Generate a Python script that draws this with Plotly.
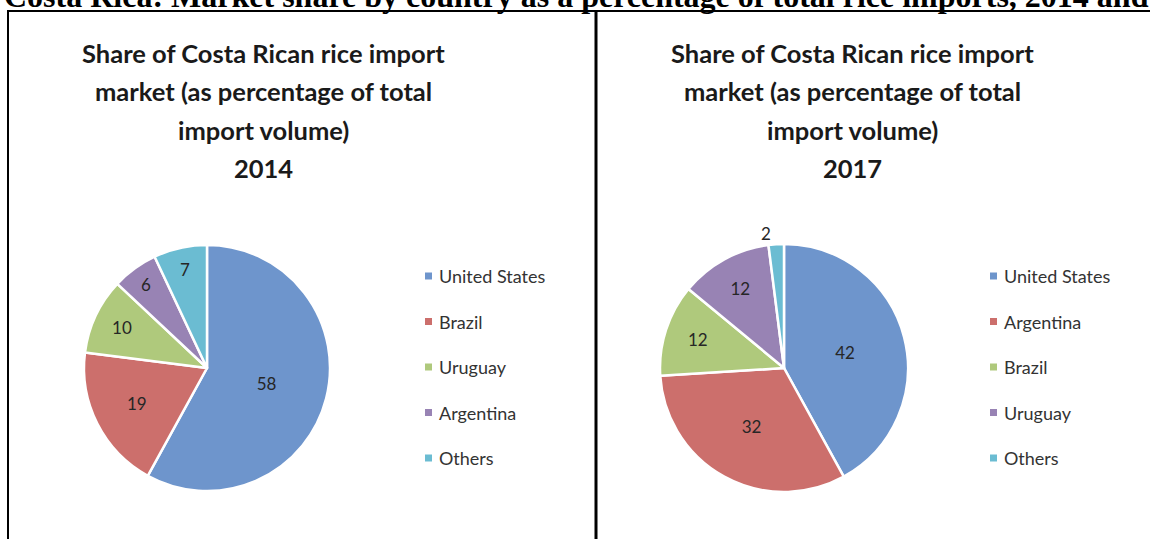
import plotly.graph_objects as go

W, H = 1150, 539

page_title = "Costa Rica: Market share by country as a percentage of total rice imports, 2014 and"
chart_title_lines = ["Share of Costa Rican rice import", "market (as percentage of total", "import volume)"]
years = ["2014", "2017"]

labels_2014 = ["United States", "Brazil", "Uruguay", "Argentina", "Others"]
values_2014 = [58, 19, 10, 6, 7]

labels_2017 = ["United States", "Argentina", "Brazil", "Uruguay", "Others"]
values_2017 = [42, 32, 12, 12, 2]

slot_colors = ["#6E95CC", "#CC6F6C", "#AFC97C", "#9883B4", "#6BBCD2"]

FONT = "Lato, 'Open Sans', sans-serif"


def px_x(v):
    return v / W


def px_y(v):
    return 1 - v / H


fig = go.Figure()

pies = [
    dict(labels=labels_2014, values=values_2014, cx=207, cy=368, r=123,
         tpos=["inside"] * 5, title_cx=263, leg_x=425),
    dict(labels=labels_2017, values=values_2017, cx=784, cy=368, r=124,
         tpos=["inside", "inside", "inside", "inside", "outside"], title_cx=852, leg_x=990),
]

annotations = []
shapes = []

for i, p in enumerate(pies):
    fig.add_trace(go.Pie(
        labels=p["labels"], values=p["values"], sort=False, direction="clockwise",
        rotation=0,
        domain=dict(x=[px_x(p["cx"] - p["r"]), px_x(p["cx"] + p["r"])],
                    y=[px_y(p["cy"] + p["r"]), px_y(p["cy"] - p["r"])]),
        marker=dict(colors=slot_colors, line=dict(color="white", width=2.5)),
        textinfo="value", textposition=p["tpos"], insidetextorientation="horizontal",
        textfont=dict(family=FONT, size=17, color="#262626"),
        outsidetextfont=dict(family=FONT, size=17, color="#262626"),
        showlegend=False, hoverinfo="label+value",
    ))
    # chart title lines
    lines = chart_title_lines + [years[i]]
    for j, t in enumerate(lines):
        annotations.append(dict(
            x=px_x(p["title_cx"]), y=px_y(53 + j * 38.3), xref="paper", yref="paper",
            text="<b>" + t + "</b>", showarrow=False, xanchor="center", yanchor="middle",
            font=dict(family=FONT, size=25.5, color="#1a1a1a")))
    # legend
    for k, lab in enumerate(p["labels"]):
        yc = 276 + k * 45.5
        shapes.append(dict(type="rect", xref="paper", yref="paper",
                           x0=px_x(p["leg_x"]), x1=px_x(p["leg_x"] + 7),
                           y0=px_y(yc + 3.5), y1=px_y(yc - 3.5),
                           fillcolor=slot_colors[k], line=dict(width=0)))
        annotations.append(dict(
            x=px_x(p["leg_x"] + 12), y=px_y(yc), xref="paper", yref="paper",
            text=lab, showarrow=False, xanchor="left", yanchor="middle",
            font=dict(family=FONT, size=18, color="#333333")))

# cropped page heading
annotations.append(dict(
    x=px_x(2), y=px_y(16), xref="paper", yref="paper", text="<b>" + page_title + "</b>",
    showarrow=False, xanchor="left", yanchor="bottom",
    font=dict(family="'Liberation Serif', 'Times New Roman', serif", size=32, color="black")))

# frame lines
shapes.append(dict(type="line", xref="paper", yref="paper", x0=px_x(7), x1=1.0,
                   y0=px_y(11), y1=px_y(11), line=dict(color="black", width=2)))
shapes.append(dict(type="line", xref="paper", yref="paper", x0=px_x(8), x1=px_x(8),
                   y0=px_y(10), y1=0, line=dict(color="black", width=2)))
shapes.append(dict(type="line", xref="paper", yref="paper", x0=px_x(596), x1=px_x(596),
                   y0=px_y(10), y1=0, line=dict(color="black", width=3)))

fig.update_layout(
    width=W, height=H, margin=dict(l=0, r=0, t=0, b=0),
    paper_bgcolor="white", plot_bgcolor="white",
    annotations=annotations, shapes=shapes,
)

fig.write_html("out.html", config={"displayModeBar": False},
               post_script="document.body.style.margin='0px';")
